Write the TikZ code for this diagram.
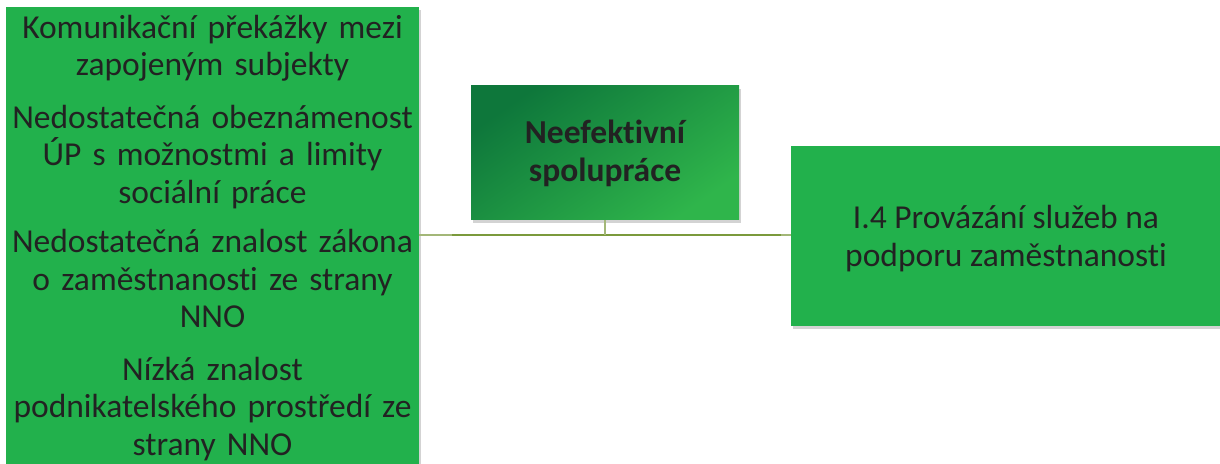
\documentclass[tikz,border=0pt]{standalone}
\usepackage{fontspec}
\setmainfont{Carlito}[Ligatures=NoCommon]
\usetikzlibrary{shadows}
\definecolor{boxgreen}{HTML}{22B14C}
\definecolor{darkgreen}{HTML}{0E773B}
\definecolor{lightgreen}{HTML}{2FB54B}
\definecolor{txt}{HTML}{222222}
\definecolor{linegreen}{HTML}{7B9A3C}
\definecolor{linelight}{HTML}{A3B778}
\tikzset{
  greenbox/.style={rectangle, fill=boxgreen, inner sep=0pt,
    drop shadow={opacity=0.35, shadow xshift=2pt, shadow yshift=-3pt}},
  boxtext/.style={text=txt, align=center, inner sep=0pt,
    font=\fontsize{33.5}{37.5}\selectfont},
  conn/.style={draw=linegreen, line width=2.2pt},
  connthin/.style={draw=linelight, line width=1.6pt},
}
\begin{document}
\begin{tikzpicture}[x=1pt,y=1pt]
\useasboundingbox (0,0) rectangle (1220,463);
% left box
\node[greenbox, minimum width=413pt, minimum height=470pt, anchor=north west] (left) at (6,456) {};
\node[boxtext, text width=413pt, anchor=north] (lefttext) at (212.5,448) {%
Komunikační překážky mezi\\ zapojeným subjekty\par\vspace{15pt}
Nedostatečná obeznámenost\\ ÚP s možnostmi a limity\\ sociální práce\par\vspace{12pt}
Nedostatečná znalost zákona\\ o zaměstnanosti ze strany\\ NNO\par\vspace{15pt}
Nízká znalost\\ podnikatelského prostředí ze\\ strany NNO};
% center box
\node[rectangle, inner sep=0pt, minimum width=268pt, minimum height=134pt,
  shading=axis, top color=darkgreen, bottom color=lightgreen, shading angle=35,
  drop shadow={opacity=0.35, shadow xshift=2pt, shadow yshift=-3pt}] (center) at (605,310) {};
\node[boxtext, font=\fontsize{33.5}{37.5}\selectfont\bfseries] (centertext) at (605,309.5) {Neefektivní\\ spolupráce};
% right box
\node[greenbox, minimum width=440pt, minimum height=180pt, anchor=north west] (right) at (791,317) {};
\node[boxtext] (righttext) at (1006,224.5) {I.4 Provázání služeb na\\ podporu zaměstnanosti};
% connectors
\coordinate (hj) at (605,228);
\coordinate (ha) at (452,228);
\coordinate (hb) at (781,228);
\draw[connthin] (left.east |- hj) -- (right.west |- hj);
\draw[conn] (ha) -- (hb);
\draw[connthin] (center.south) -- (hj);
\end{tikzpicture}
\end{document}
